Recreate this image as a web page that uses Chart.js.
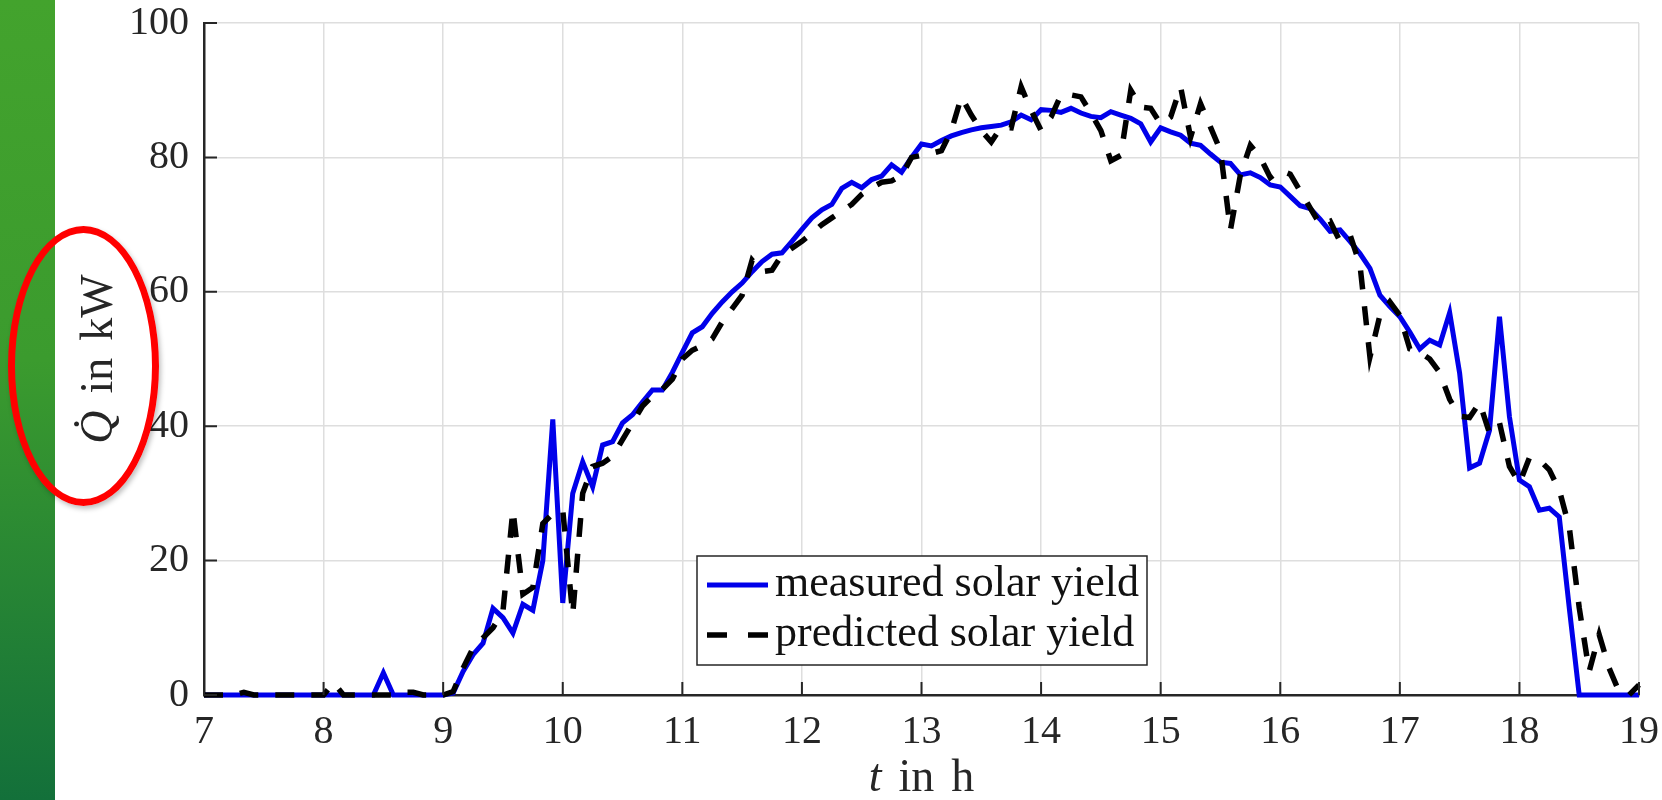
<!DOCTYPE html>
<html>
<head>
<meta charset="utf-8">
<script src="https://cdn.jsdelivr.net/npm/chart.js@4.4.1/dist/chart.umd.min.js"></script>
<style>
  html, body { margin: 0; padding: 0; background: #fff; }
  #wrap { position: relative; width: 1662px; height: 800px; overflow: hidden; }
  #bar { position: absolute; left: 0; top: 0; width: 55px; height: 800px;
         background: linear-gradient(to bottom, #43a32d 0%, #3b9b2e 45%, #13703a 100%); }
  #ring { position: absolute; left: 8px; top: 226px; width: 151px; height: 280px; box-sizing: border-box;
          border: 7px solid #f00; border-radius: 50%; box-shadow: 2px 3px 5px rgba(0,0,0,0.25); }
  canvas { position: absolute; left: 0; top: 0; }
</style>
</head>
<body>
<div id="wrap">
  <div id="bar"></div>
  <canvas id="chart" width="1662" height="800"></canvas>
  <div id="ring"></div>
</div>
<script>
// readings every 5 minutes, 7:00 .. 19:00
const T_START = 7;
const T_STEP = 5 / 60;

const measured = [
  0, 0, 0, 0, 0, 0, 0, 0, 0, 0, 0, 0,            // 7:00 - 7:55
  0, 0, 0, 0, 0, 0, 3.3, 0, 0, 0, 0, 0,          // 8:00 - 8:55
  0, 0.3, 3.5, 6, 7.7, 12.9, 11.5, 9.2, 13.5, 12.6, 20, 41,        // 9
  13.7, 30, 34.7, 31, 37.2, 37.7, 40.5, 41.7, 43.6, 45.4, 45.4, 48, // 10
  51, 53.9, 54.8, 56.8, 58.5, 60, 61.3, 63, 64.5, 65.6, 65.8, 67.5, // 11
  69.3, 71, 72.2, 73, 75.4, 76.3, 75.5, 76.7, 77.2, 78.9, 77.8, 80, // 12
  82, 81.7, 82.5, 83.2, 83.7, 84.1, 84.4, 84.6, 84.8, 85.3, 86.3, 85.6, // 13
  87.1, 87, 86.7, 87.3, 86.6, 86.1, 85.9, 86.8, 86.3, 85.8, 85, 82.3,   // 14
  84.4, 83.8, 83.3, 82.1, 81.8, 80.5, 79.3, 79.1, 77.4, 77.7, 77, 75.9, // 15
  75.6, 74.2, 72.8, 72.4, 70.8, 69, 69.2, 67.5, 65.7, 63.5, 59.5, 57.8, // 16
  56.3, 54, 51.5, 52.8, 52.1, 56.9, 47.9, 33.8, 34.5, 39.4, 56.3, 41.4, // 17
  32, 31, 27.5, 27.8, 26.5, 13, 0, 0, 0, 0, 0, 0,                       // 18
  0                                                                     // 19:00
];

const predicted = [
  0, 0, 0, 0, 0.4, 0, 0, 0, 0, 0, 0, 0,
  0, 1.8, 0, 0, 0, 0, 0, 0, 0.4, 0.4, 0, 0,
  0, 0.5, 4, 7, 8.5, 10, 12.5, 27.5, 15, 16, 25.5, 27,
  27.5, 12, 30, 34, 34.5, 35.5, 38, 40.5, 43, 44.5, 45.5, 47,
  50, 51.3, 52, 53, 55.5, 57.5, 59.5, 64.7, 63, 63.2, 65.5, 66.5,
  67.5, 68.7, 70, 71, 72, 73, 74.5, 75.5, 76.3, 76.5, 77.3, 80,
  80.3, 80.6, 81, 84, 89, 86.3, 84, 82.3, 84.5, 84.4, 90.5, 87,
  84, 86, 89.3, 89.3, 89, 86.6, 84, 79.5, 80.3, 90, 87.5, 87.3,
  85, 86, 90.5, 83, 88, 84.5, 81, 69.2, 77.4, 81.8, 80, 77,
  78.1, 77.5, 75, 72.5, 70, 70.5, 67.5, 68.5, 64, 50.3, 56.5, 58.5,
  56.5, 51.5, 51, 50, 48, 44, 41.5, 41.3, 43.5, 39, 40.5, 34,
  31.5, 35.3, 35, 33.5, 30.5, 25, 13, 3.5, 9, 4, 0.5, 0,
  1.5
];

const xTicks = [7, 8, 9, 10, 11, 12, 13, 14, 15, 16, 17, 18, 19];
const yTicks = [0, 20, 40, 60, 80, 100];

const hours = measured.map((_, i) => T_START + i * T_STEP);

const SERIF = "'Liberation Serif', 'Times New Roman', serif";
const AXIS = '#262626';

// MATLAB-style ticks pointing into the plot
const inwardTicks = {
  id: 'inwardTicks',
  afterDatasetsDraw(chart) {
    const { ctx, chartArea: a, scales: { x, y } } = chart;
    ctx.save();
    ctx.strokeStyle = AXIS;
    ctx.lineWidth = 2;
    ctx.beginPath();
    xTicks.forEach(v => {
      const px = x.getPixelForValue(v);
      ctx.moveTo(px, a.bottom);
      ctx.lineTo(px, a.bottom - 13);
    });
    yTicks.forEach(v => {
      const py = y.getPixelForValue(v);
      ctx.moveTo(a.left, py);
      ctx.lineTo(a.left + 13, py);
    });
    ctx.stroke();
    ctx.restore();
  }
};

// axis titles (italic symbol + upright text) and the boxed legend
const annotations = {
  id: 'annotations',
  afterDraw(chart) {
    const { ctx, chartArea: a } = chart;
    ctx.save();
    ctx.fillStyle = AXIS;
    ctx.textBaseline = 'middle';

    // words drawn one after another with a fixed gap, centred on (cx, cy)
    const GAP = 17;
    const drawMixed = (parts, cx, cy) => {
      const widths = parts.map(p => { ctx.font = p.font; return ctx.measureText(p.text).width; });
      let xpos = cx - (widths.reduce((s, w) => s + w, 0) + GAP * (parts.length - 1)) / 2;
      parts.forEach((p, i) => {
        ctx.font = p.font;
        ctx.textAlign = 'left';
        ctx.fillText(p.text, xpos, cy);
        xpos += widths[i] + GAP;
      });
    };

    const it = `italic 46px ${SERIF}`;
    const rm = `46px ${SERIF}`;
    drawMixed([{ text: 't', font: it }, { text: 'in', font: rm }, { text: 'h', font: rm }],
      (a.left + a.right) / 2, 779);

    ctx.save();
    ctx.translate(100, (a.top + a.bottom) / 2);
    ctx.rotate(-Math.PI / 2);
    drawMixed([{ text: 'Q\u0307', font: it }, { text: 'in', font: rm }, { text: 'kW', font: rm }], 0, 0);
    ctx.restore();

    // legend
    const bx = a.left + 493, by = a.top + 533, bw = 450, bh = 109;
    ctx.fillStyle = '#fff';
    ctx.fillRect(bx, by, bw, bh);
    ctx.strokeStyle = AXIS;
    ctx.lineWidth = 1.5;
    ctx.strokeRect(bx, by, bw, bh);

    chart.data.datasets.forEach((ds, i) => {
      const ly = by + 29 + i * 50;
      ctx.beginPath();
      ctx.strokeStyle = ds.borderColor;
      ctx.lineWidth = ds.borderWidth;
      ctx.setLineDash(ds.borderDash ? [20, 21] : []);
      ctx.moveTo(bx + 10, ly);
      ctx.lineTo(bx + 71, ly);
      ctx.stroke();
      ctx.setLineDash([]);
      ctx.fillStyle = '#111';
      ctx.font = `44px ${SERIF}`;
      ctx.textAlign = 'left';
      ctx.textBaseline = 'alphabetic';
      ctx.fillText(ds.label, bx + 78, ly + 11);
    });
    ctx.restore();
  }
};

new Chart(document.getElementById('chart'), {
  type: 'line',
  data: {
    datasets: [
      {
        label: 'measured solar yield',
        data: measured.map((v, i) => ({ x: hours[i], y: v })),
        borderColor: '#0000ea',
        borderWidth: 5,
        pointRadius: 0,
        tension: 0,
        clip: false,
        order: 1
      },
      {
        label: 'predicted solar yield',
        data: predicted.map((v, i) => ({ x: hours[i], y: v })),
        borderColor: '#000',
        borderWidth: 5.5,
        borderDash: [19, 17],
        pointRadius: 0,
        tension: 0,
        clip: false,
        order: 0
      }
    ]
  },
  options: {
    responsive: false,
    animation: false,
    events: [],
    layout: { padding: { left: 58, right: 23, top: 23, bottom: 0 } },
    plugins: { legend: { display: false }, tooltip: { enabled: false } },
    scales: {
      x: {
        type: 'linear',
        min: 7, max: 19,
        afterBuildTicks: s => { s.ticks = xTicks.map(v => ({ value: v })); },
        afterFit: s => { s.height = 105; s.paddingLeft = 0; s.paddingRight = 0; },
        ticks: { font: { family: SERIF, size: 40 }, color: AXIS, padding: 13 },
        grid: { color: '#dedede', lineWidth: 1.5, drawTicks: false },
        border: { display: true, color: AXIS, width: 2.5 }
      },
      y: {
        min: 0, max: 100,
        afterBuildTicks: s => { s.ticks = yTicks.map(v => ({ value: v })); },
        afterFit: s => { s.width = 146; s.paddingTop = 0; s.paddingBottom = 0; },
        ticks: { font: { family: SERIF, size: 40 }, color: AXIS, padding: 15 },
        grid: { color: '#dedede', lineWidth: 1.5, drawTicks: false },
        border: { display: true, color: AXIS, width: 2.5 }
      }
    }
  },
  plugins: [inwardTicks, annotations]
});
</script>
</body>
</html>
